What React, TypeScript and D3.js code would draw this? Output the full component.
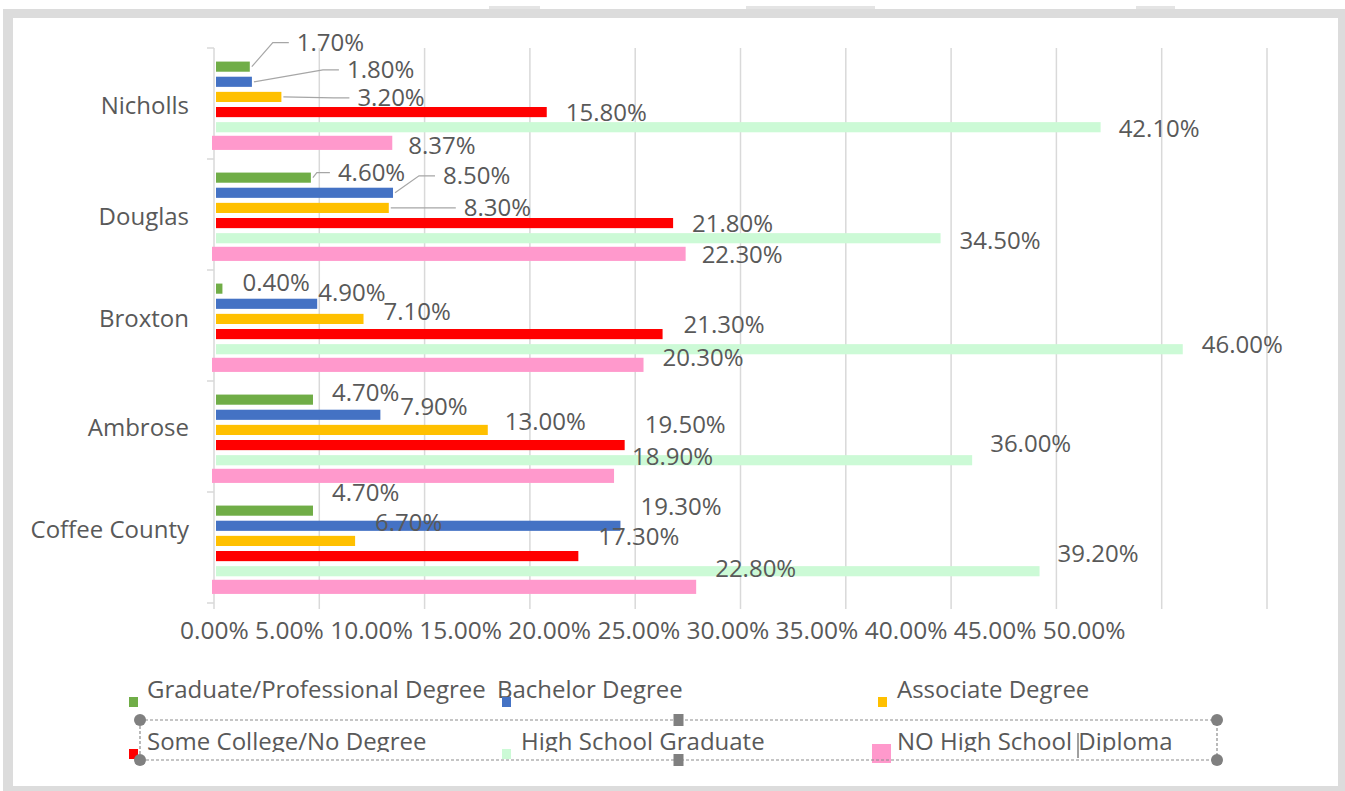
import React, { useEffect, useRef } from 'react';
import * as d3 from 'd3';

// categories, top to bottom
const categories = ['Nicholls', 'Douglas', 'Broxton', 'Ambrose', 'Coffee County'];

const seriesNames = [
  'Graduate/Professional Degree',
  'Bachelor Degree',
  'Associate Degree',
  'Some College/No Degree',
  'High School Graduate',
  'NO High School Diploma',
];

// values in percent, one per category
const graduate = [1.7, 4.6, 0.4, 4.7, 4.7];
const bachelor = [1.8, 8.5, 4.9, 7.9, 19.3];
const associate = [3.2, 8.3, 7.1, 13.0, 6.7];
const someCollege = [15.8, 21.8, 21.3, 19.5, 17.3];
const hsGraduate = [42.1, 34.5, 46.0, 36.0, 39.2];
const noDiploma = [8.37, 22.3, 20.3, 18.9, 22.8];

const seriesValues = [graduate, bachelor, associate, someCollege, hsGraduate, noDiploma];
const colors = ['#70AD47', '#4472C4', '#FFC000', '#FF0000', '#CCFAD6', '#FF99CC'];

// label nudges [dx, dy, leader] per category, per series (Excel moved them around)
const labelNudges = [
  [[28, -24, 1], [76, -12, 1], [57, 1, 1], [0, 1, 0], [-1, 1, 0], [-1, 3, 0]],
  [[8, -5, 1], [31, -17, 1], [56, 0, 1], [0, 1, 0], [0, 2, 0], [-1, 1, 0]],
  [[1, -6, 0], [-18, -11, 0], [1, -7, 0], [2, -9, 0], [0, -5, 0], [2, -7, 0]],
  [[0, -7, 0], [1, -8, 0], [-2, -8, 0], [1, -20, 0], [-1, -17, 0], [1, -19, 0]],
  [[0, -18, 0], [1, -19, 0], [1, -18, 0], [1, -19, 0], [-1, -18, 0], [2, -18, 0]],
];
// category label nudges (same drift as in the source)
const categoryNudges = [2, 2, -7, -9, -18];

const FONT = "'Open Sans', 'Noto Sans', sans-serif";
const TEXT = '#595959';
const GRID = '#d9d9d9';

const App = () => {
  const svgRef = useRef<SVGSVGElement>(null);

  useEffect(() => {
    const width = 1345;
    const height = 791;
    const svg = d3.select(svgRef.current);
    svg.selectAll('*').remove();
    svg.attr('width', width).attr('height', height);

    // frame
    svg.append('rect').attr('width', width).attr('height', height).attr('fill', '#fff');
    svg.append('rect').attr('x', 3).attr('y', 9).attr('width', width - 3).attr('height', height - 9).attr('fill', '#dcdcdc');
    svg.append('rect').attr('x', 13).attr('y', 18).attr('width', 1325).attr('height', 768).attr('fill', '#fff');
    [[489, 51], [746, 129], [1136, 39]].forEach(([x, w]) => {
      svg.append('rect').attr('x', x).attr('y', 6).attr('width', w).attr('height', 3).attr('fill', '#e4e4e4');
    });

    const x = d3.scaleLinear().domain([0, 50]).range([214, 1267]);
    const y0 = d3.scaleBand().domain(categories).range([48, 603]);
    const y1 = d3.scaleBand<number>()
      .domain(d3.range(seriesNames.length))
      .range([11, y0.bandwidth() - 9])
      .paddingInner(0.33)
      .paddingOuter(0.17);

    // gridlines + bottom ticks
    x.ticks(10).forEach(t => {
      svg.append('line')
        .attr('x1', x(t)).attr('x2', x(t))
        .attr('y1', 48).attr('y2', 609)
        .style('stroke', GRID)
        .style('stroke-width', '1.5px');
    });

    // y axis ticks at band boundaries
    categories.forEach(c => {
      const yy = y0(c)!;
      svg.append('line').attr('x1', 207).attr('x2', 214).attr('y1', yy).attr('y2', yy)
        .style('stroke', GRID).style('stroke-width', '1.5px');
    });
    svg.append('line').attr('x1', 207).attr('x2', 214).attr('y1', 603).attr('y2', 603)
      .style('stroke', GRID).style('stroke-width', '1.5px');

    // category labels
    categories.forEach((c, ci) => {
      svg.append('text')
        .attr('x', 189)
        .attr('y', y0(c)! + y0.bandwidth() / 2 + categoryNudges[ci])
        .attr('dy', '0.35em')
        .style('text-anchor', 'end')
        .style('font-family', FONT)
        .style('font-size', '24px')
        .style('fill', TEXT)
        .text(c);
    });

    // bars
    categories.forEach((c, ci) => {
      seriesValues.forEach((vals, si) => {
        const v = vals[ci];
        const top = y0(c)! + y1(si)!;
        const bw = y1.bandwidth();
        if (si === 5) {
          svg.append('rect')
            .attr('x', x(0) - 2)
            .attr('y', top - 1.5)
            .attr('width', x(v) - x(0) + 4)
            .attr('height', bw + 4)
            .attr('fill', colors[si]);
        } else {
          svg.append('rect')
            .attr('x', x(0) + 2)
            .attr('y', top)
            .attr('width', Math.max(0, x(v) - x(0) - 2))
            .attr('height', bw)
            .attr('fill', colors[si]);
        }
      });
    });

    // data labels + leader lines
    const fmt = d3.format('.2f');
    categories.forEach((c, ci) => {
      seriesValues.forEach((vals, si) => {
        const v = vals[ci];
        const cy = y0(c)! + y1(si)! + y1.bandwidth() / 2;
        const [dx, dy, leader] = labelNudges[ci][si];
        const lx = x(v) + 19 + dx;
        const ly = cy + dy;
        if (leader) {
          const elbow = Math.max(x(v) + 6, lx - 24);
          svg.append('path')
            .attr('d', `M${x(v) + 2},${cy}L${elbow},${ly}L${lx - 8},${ly}`)
            .style('fill', 'none')
            .style('stroke', '#a6a6a6')
            .style('stroke-width', '1.2px');
        }
        svg.append('text')
          .attr('x', lx)
          .attr('y', ly)
          .attr('dy', '0.35em')
          .style('font-family', FONT)
          .style('font-size', '24px')
          .style('fill', TEXT)
          .text(fmt(v) + '%');
      });
    });

    // x tick labels (run together in one line, as in the source)
    const pct = d3.format('.2%');
    svg.append('text')
      .attr('x', 180)
      .attr('y', 630)
      .attr('dy', '0.35em')
      .style('white-space', 'pre')
      .style('font-family', FONT)
      .style('font-size', '24.5px')
      .style('fill', TEXT)
      .text(x.ticks(10).map(t => pct(t / 100)).join(' '));

    // legend
    const defs = svg.append('defs');
    defs.append('clipPath').attr('id', 'row2clip')
      .append('rect').attr('x', 0).attr('y', 0).attr('width', width).attr('height', 752);

    const markerX = [129, 502, 878, 129, 502, 872];
    const markerY = [697, 697, 697, 749, 749, 744];
    const markerS = [9, 9, 9, 9, 9, 19];
    const textX = [147, 497, 897, 147, 521, 897];
    const baseY = [698, 698, 698, 750, 750, 750];

    seriesNames.forEach((name, i) => {
      const t = svg.append('text')
        .attr('x', textX[i])
        .attr('y', baseY[i])
        .style('font-family', FONT)
        .style('font-size', '24px')
        .style('fill', TEXT)
        .text(name);
      if (i >= 3) t.attr('clip-path', 'url(#row2clip)');
    });
    seriesNames.forEach((_, i) => {
      svg.append('rect')
        .attr('x', markerX[i])
        .attr('y', markerY[i])
        .attr('width', markerS[i])
        .attr('height', i === 5 ? markerS[i] : 10)
        .attr('fill', colors[i]);
    });

    // selection box around the legend's second row
    const box = { x0: 140, x1: 1217, y0: 720, y1: 760 };
    svg.append('rect')
      .attr('x', box.x0).attr('y', box.y0)
      .attr('width', box.x1 - box.x0).attr('height', box.y1 - box.y0)
      .style('fill', 'none')
      .style('stroke', '#8c8c8c')
      .style('stroke-width', '1.2px')
      .style('stroke-dasharray', '3,2');
    [[box.x0, box.y0], [box.x1, box.y0], [box.x0, box.y1], [box.x1, box.y1]].forEach(([cx, cy]) => {
      svg.append('ellipse').attr('cx', cx).attr('cy', cy).attr('rx', 6).attr('ry', 6).attr('fill', '#808080');
    });
    const mid = (box.x0 + box.x1) / 2;
    [box.y0, box.y1].forEach(cy => {
      svg.append('rect').attr('x', mid - 5).attr('y', cy - 6).attr('width', 10).attr('height', 12).attr('fill', '#808080');
    });
    // text cursor
    svg.append('line').attr('x1', 1078).attr('x2', 1078).attr('y1', 733).attr('y2', 758)
      .style('stroke', '#404040').style('stroke-width', '1px');
  }, []);

  return (
    <div style={{ position: 'absolute', left: 0, top: 0 }}>
      <svg ref={svgRef} style={{ display: 'block' }}></svg>
    </div>
  );
};

export default App;
